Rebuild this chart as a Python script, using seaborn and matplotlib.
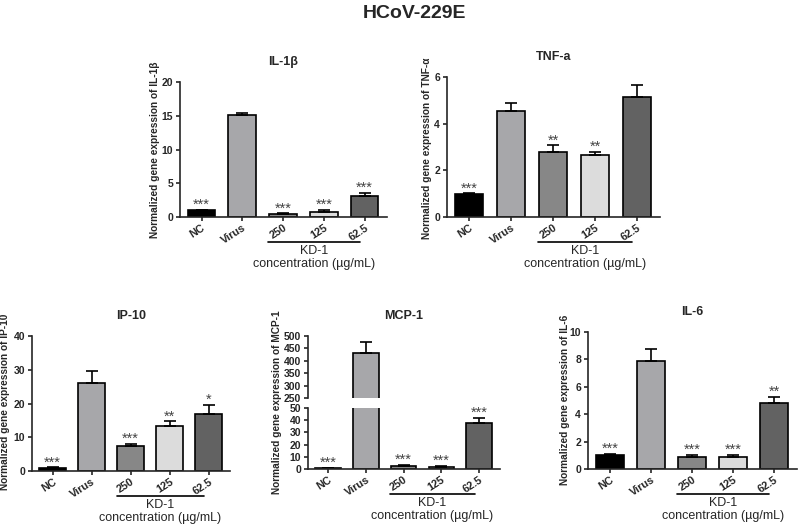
import matplotlib
matplotlib.use("Agg")
import matplotlib.pyplot as plt
import matplotlib.transforms as mtrans
import seaborn as sns
import numpy as np
import pandas as pd

categories = ["NC", "Virus", "250", "125", "62.5"]
bar_colors = ["#000000", "#a7a7aa", "#878787", "#dcdcdc", "#626262"]

il1b_vals = [1.0, 15.1, 0.4, 0.75, 3.1]
il1b_err = [0.05, 0.3, 0.15, 0.25, 0.5]
il1b_sig = ["***", "", "***", "***", "***"]

tnf_vals = [1.0, 4.55, 2.8, 2.65, 5.15]
tnf_err = [0.02, 0.35, 0.27, 0.15, 0.5]
tnf_sig = ["***", "", "**", "**", ""]

ip10_vals = [1.0, 26.0, 7.3, 13.3, 17.0]
ip10_err = [0.1, 3.5, 0.7, 1.4, 2.7]
ip10_sig = ["***", "", "***", "**", "*"]

mcp1_vals = [1.0, 430.0, 2.5, 2.0, 38.0]
mcp1_err = [0.2, 45.0, 1.0, 0.3, 4.0]
mcp1_sig = ["***", "", "***", "***", "***"]

il6_vals = [1.0, 7.9, 0.9, 0.9, 4.85]
il6_err = [0.1, 0.85, 0.15, 0.12, 0.4]
il6_sig = ["***", "", "***", "***", "**"]

sns.set_theme(style="ticks")
plt.rcParams["font.family"] = ["Liberation Sans", "DejaVu Sans"]
plt.rcParams["axes.linewidth"] = 1.2

W, H = 798, 526
fig = plt.figure(figsize=(W / 100, H / 100), dpi=100)


def make_ax(x0, x1, ytop, ybot):
    return fig.add_axes([x0 / W, 1 - ybot / H, (x1 - x0) / W, (ybot - ytop) / H])


def bars(ax, vals, errs):
    df = pd.DataFrame({"cat": categories, "val": vals})
    sns.barplot(data=df, x="cat", y="val", hue="cat", palette=bar_colors,
                order=categories, legend=False, edgecolor="black",
                linewidth=1.2, width=0.68, ax=ax, errorbar=None)
    xs = np.arange(len(vals))
    ax.errorbar(xs, vals, yerr=[np.zeros(len(vals)), errs], fmt="none",
                ecolor="black", elinewidth=1.2, capsize=4, capthick=1.2,
                zorder=1)


def style(ax, ylim, yticks, xlabels=True):
    ax.set_xlim(-0.53, 4.55)
    ax.set_ylim(*ylim)
    ax.set_yticks(yticks)
    ax.set_yticklabels([str(t) for t in yticks], fontsize=7.5, fontweight="bold")
    sns.despine(ax=ax)
    ax.tick_params(axis="both", length=3, width=1.2, pad=2)
    ax.tick_params(axis="x", pad=1)
    ax.set_xlabel("")
    ax.set_ylabel("")
    if xlabels:
        ax.set_xticks(range(5))
        ax.set_xticklabels(categories, rotation=33, ha="right",
                           rotation_mode="anchor", fontsize=7.8,
                           fontweight="bold")
    else:
        ax.set_xticks([])


def stars(ax, vals, errs, sig, frac):
    lo, hi = ax.get_ylim()
    off = (hi - lo) * frac
    for i, (v, e, s) in enumerate(zip(vals, errs, sig)):
        if s:
            ax.text(i, v + e + off, s, ha="center", va="bottom", fontsize=10.5,
                    color="#444444")


def kd1(ax):
    base = mtrans.blended_transform_factory(ax.transData, ax.transAxes)
    t_line = base + mtrans.ScaledTranslation(0, -0.25, fig.dpi_scale_trans)
    t_kd = base + mtrans.ScaledTranslation(0, -0.34, fig.dpi_scale_trans)
    t_c = base + mtrans.ScaledTranslation(0, -0.47, fig.dpi_scale_trans)
    ax.plot([1.64, 3.88], [0, 0], transform=t_line, clip_on=False,
            color="black", lw=1.2)
    ax.text(2.76, 0, "KD-1", transform=t_kd, ha="center", va="center",
            fontsize=9)
    ax.text(2.76, 0, "concentration (µg/mL)", transform=t_c, ha="center",
            va="center", fontsize=9)


def ylab(x, y, text):
    fig.text(x / W, 1 - y / H, text, rotation=90, ha="center", va="center",
             fontsize=7.3, fontweight="bold")


def panel(ax, vals, errs, sig, ylim, yticks, title, off):
    bars(ax, vals, errs)
    style(ax, ylim, yticks)
    stars(ax, vals, errs, sig, off)
    ax.set_title(title, fontsize=9, fontweight="bold", pad=12)
    kd1(ax)


ax1 = make_ax(180, 387, 82, 217)
panel(ax1, il1b_vals, il1b_err, il1b_sig, (0, 20), [0, 5, 10, 15, 20],
      "IL-1β", -0.015)
ylab(155, 150, "Normalized gene expression of IL-1β")

ax2 = make_ax(447, 660, 77, 217)
panel(ax2, tnf_vals, tnf_err, tnf_sig, (0, 6), [0, 2, 4, 6],
      "TNF-a", -0.015)
ylab(427, 148, "Normalized gene expression of TNF-α")

ax3 = make_ax(32, 230, 336, 471)
panel(ax3, ip10_vals, ip10_err, ip10_sig, (0, 40), [0, 10, 20, 30, 40],
      "IP-10", -0.015)
ylab(5, 402, "Normalized gene expression of IP-10")

ax5 = make_ax(588, 797, 332, 469)
panel(ax5, il6_vals, il6_err, il6_sig, (0, 10), [0, 2, 4, 6, 8, 10],
      "IL-6", -0.015)
ylab(565, 400, "Normalized gene expression of IL-6")

# MCP-1 broken axis
ax4b = make_ax(308, 500, 408, 469)
ax4t = make_ax(308, 500, 336, 398)
bars(ax4b, mcp1_vals, mcp1_err)
bars(ax4t, mcp1_vals, mcp1_err)
style(ax4b, (0, 50), [0, 10, 20, 30, 40, 50])
style(ax4t, (250, 500), [250, 300, 350, 400, 450, 500], xlabels=False)
ax4t.spines["bottom"].set_visible(False)
stars(ax4b, mcp1_vals, mcp1_err, mcp1_sig, -0.03)
ax4t.set_title("MCP-1", fontsize=9, fontweight="bold", pad=12)
kd1(ax4b)
ylab(277, 402, "Normalized gene expression of MCP-1")

fig.text(414 / W, 1 - 14 / H, "HCoV-229E", ha="center", va="center",
         fontsize=14, fontweight="bold")

fig.savefig("out.png", dpi=100)
